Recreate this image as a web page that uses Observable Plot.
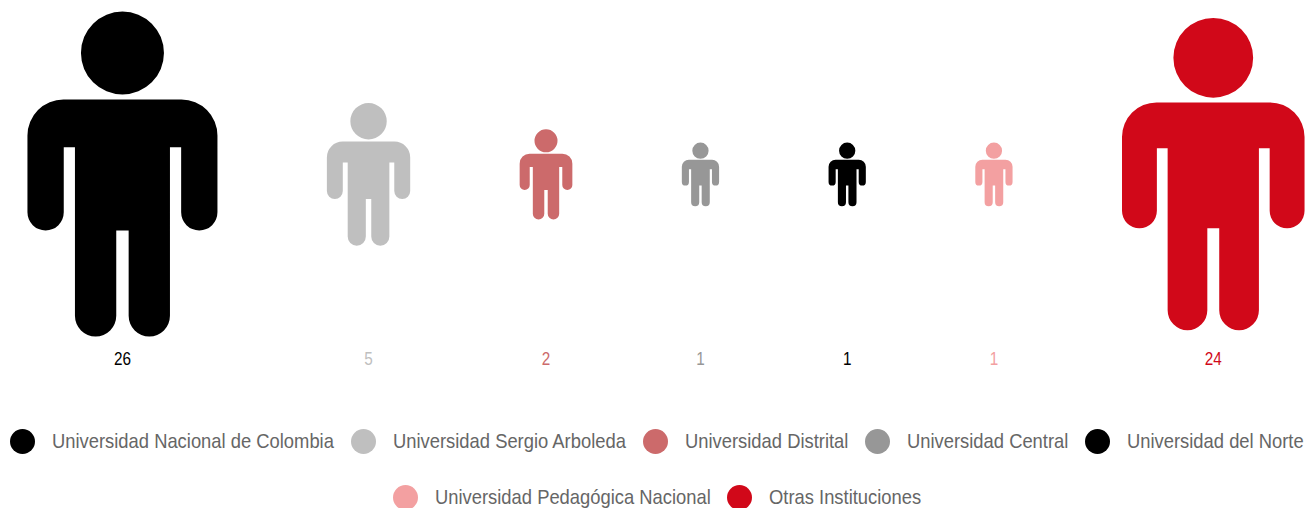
<!DOCTYPE html>
<html lang="es">
<head>
<meta charset="utf-8">
<script src="https://cdn.jsdelivr.net/npm/d3@7"></script>
<script src="https://cdn.jsdelivr.net/npm/@observablehq/plot@0.6"></script>
<style>
  html, body { margin: 0; padding: 0; background: #fff; overflow: hidden; }
  body { width: 1316px; height: 508px; font-family: "Liberation Sans", sans-serif; }
  svg { display: block; }
  #legend { display: flex; flex-wrap: wrap; justify-content: center; width: 1316px; transform: translateX(-1px); }
  .item { display: flex; align-items: center; height: 56px; margin: 0 8.5px; }
  .swatch { width: 25px; height: 25px; border-radius: 50%; margin-right: 17px; flex: none; }
  .name { display: inline-block; font-size: 21px; color: #666; white-space: nowrap; transform-origin: left center; }
</style>
</head>
<body>
<div id="chart"></div>
<div id="legend"></div>
<script>
const institutions = ["Universidad Nacional de Colombia", "Universidad Sergio Arboleda", "Universidad Distrital", "Universidad Central", "Universidad del Norte", "Universidad Pedagógica Nacional", "Otras Instituciones"];
const counts = [26, 5, 2, 1, 1, 1, 24];
const colors = ["#000000", "#bfbfbf", "#cc6a6b", "#979797", "#000000", "#f3a0a1", "#d10819"];
const condense = 0.875;

// Person glyph, in fractions of its half-height, so that it scales with the r channel.
const person = {
  draw(c, size) {
    const r = Math.sqrt(size / Math.PI), u = v => v * r / 162.5;
    const headY = u(-121.5), headR = u(41.5);
    c.moveTo(headR, headY);
    c.arc(0, headY, headR, 0, 2 * Math.PI);
    c.closePath();
    const top = u(-75), W = u(95), armIn = u(58.7), pit = u(-27.3), T = u(47.5), low = u(56), foot = u(162), gap = u(6.2);
    const shoulder = u(36), armR = (W - armIn) / 2, legR = (T - gap) / 2;
    c.moveTo(-W + shoulder, top);
    c.lineTo(W - shoulder, top);
    c.arc(W - shoulder, top + shoulder, shoulder, -Math.PI / 2, 0);
    c.lineTo(W, low - armR);
    c.arc(W - armR, low - armR, armR, 0, Math.PI);
    c.lineTo(armIn, pit);
    c.lineTo(T, pit);
    c.lineTo(T, foot - legR);
    c.arc(T - legR, foot - legR, legR, 0, Math.PI);
    c.lineTo(gap, low);
    c.lineTo(-gap, low);
    c.lineTo(-gap, foot - legR);
    c.arc(-gap - legR, foot - legR, legR, 0, Math.PI);
    c.lineTo(-T, pit);
    c.lineTo(-armIn, pit);
    c.lineTo(-armIn, low - armR);
    c.arc(-W + armR, low - armR, armR, 0, Math.PI);
    c.lineTo(-W, top + shoulder);
    c.arc(-W + shoulder, top + shoulder, shoulder, Math.PI, 1.5 * Math.PI);
    c.closePath();
  }
};

// Figures are packed left to right: each takes a width proportional to sqrt(count), with an even gap.
const widths = counts.map(Math.sqrt);
const gapUnits = 5.88;
let cursor = 0;
const table = institutions.map((name, i) => {
  const center = cursor + widths[i];
  cursor = center + widths[i] + gapUnits;
  return {name, count: counts[i], color: colors[i], center};
});
const extent = cursor - gapUnits;

// Narrow the numbers around their anchor, since no condensed face is installed.
function narrowText(index, scales, values, dimensions, context, next) {
  const g = next(index, scales, values, dimensions, context);
  g.querySelectorAll("text").forEach(t => t.setAttribute("transform", (t.getAttribute("transform") || "") + " scale(0.85,1)"));
  return g;
}

document.getElementById("chart").append(Plot.plot({
  width: 1316,
  height: 413,
  margin: 0,
  x: {domain: [0, extent], range: [27, 1304], axis: null},
  r: {type: "sqrt", domain: [0, 26], range: [0, 162.5]},
  marks: [
    Plot.dot(table, {x: "center", r: "count", fill: "color", stroke: null, symbol: person, frameAnchor: "top", dy: 174}),
    Plot.text(table, {x: "center", text: d => String(d.count), fill: "color", frameAnchor: "top", dy: 352, fontSize: 18, fontFamily: "'Liberation Sans', sans-serif", render: narrowText})
  ]
}));

const legend = document.getElementById("legend");
institutions.forEach((name, i) => {
  const item = document.createElement("div");
  item.className = "item";
  const swatch = document.createElement("span");
  swatch.className = "swatch";
  swatch.style.background = colors[i];
  const label = document.createElement("span");
  label.className = "name";
  label.textContent = name;
  item.append(swatch, label);
  legend.append(item);
  const w = label.getBoundingClientRect().width;
  label.style.width = (w * condense) + "px";
  label.style.transform = `scaleX(${condense})`;
});
</script>
</body>
</html>
